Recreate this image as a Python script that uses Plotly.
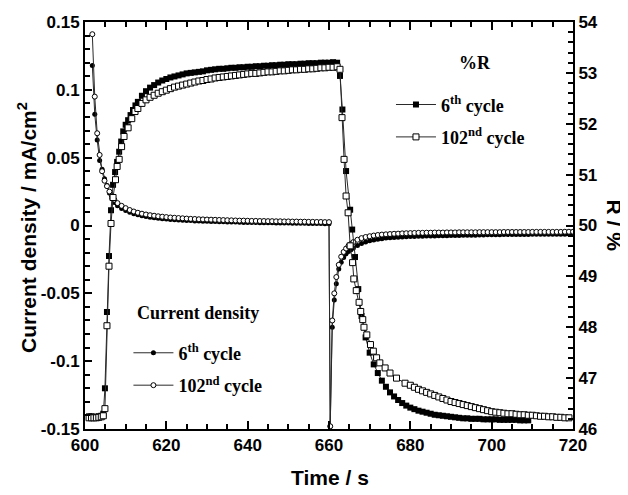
import plotly.graph_objects as go

# ---------------- data ----------------
j_time = [601.8, 602.4, 603.0, 603.6, 604.2, 604.8, 605.4, 606.0, 606.6, 607.2,
          608, 609, 610, 611, 612, 613, 614, 615, 616, 617, 618, 619, 620,
          621, 622, 623, 624, 625, 626, 627, 628, 629, 630, 631, 632, 633, 634, 635, 636, 637, 638, 639, 640,
          641, 642, 643, 644, 645, 646, 647, 648, 649, 650, 651, 652, 653, 654, 655, 656, 657, 658, 659,
          660.0,
          660.3, 660.8, 661.3, 661.8, 662.4, 663.0, 663.6, 664.2, 664.8, 665.4,
          666, 667, 668, 669, 670, 671, 672, 673, 674, 675, 676, 677, 678, 679, 680,
          681, 682, 683, 684, 685, 686, 687, 688, 689, 690,
          691, 692, 693, 694, 695, 696, 697, 698, 699, 700,
          701, 702, 703, 704, 705, 706, 707, 708, 709, 710,
          711, 712, 713, 714, 715, 716, 717, 718, 719, 720]

j_cycle6 = [0.118, 0.082, 0.063, 0.048, 0.0415, 0.0345, 0.0295, 0.024, 0.020, 0.017,
            0.0145, 0.0125, 0.0110, 0.0097, 0.0087, 0.0079, 0.0072, 0.0066, 0.0061, 0.0057, 0.0053, 0.0050, 0.0047,
            0.0045, 0.0043, 0.0041, 0.0039, 0.0037, 0.0036, 0.0034, 0.0033, 0.0032, 0.0031,
            0.0030, 0.0029, 0.0028, 0.0027, 0.0026, 0.0026, 0.0025, 0.0024, 0.0023, 0.0023,
            0.0022, 0.0022, 0.0021, 0.0021, 0.0020, 0.0020, 0.0019, 0.0019, 0.0018, 0.0018,
            0.0017, 0.0017, 0.0016, 0.0016, 0.0015, 0.0015, 0.0014, 0.0014, 0.0013,
            0.0013,
            -0.148, -0.075, -0.055, -0.043, -0.032, -0.027, -0.0235, -0.021, -0.0192, -0.0178,
            -0.0165, -0.0147, -0.0132, -0.0121, -0.0113, -0.0107, -0.0101, -0.0097, -0.0093, -0.0090,
            -0.0088, -0.0086, -0.0084, -0.0083, -0.0082,
            -0.0081, -0.0080, -0.0079, -0.0078, -0.0077, -0.0077, -0.0076, -0.0075, -0.0075, -0.0074,
            -0.0073, -0.0073, -0.0072, -0.0072, -0.0071, -0.0071, -0.0070, -0.0070, -0.0069, -0.0068,
            -0.0068, -0.0068, -0.0067, -0.0067, -0.0067, -0.0066, -0.0066, -0.0066, -0.0066, -0.0065,
            -0.0065, -0.0065, -0.0065, -0.0064, -0.0064, -0.0064, -0.0064, -0.0064, -0.0063, -0.0063]

j_cycle102 = [0.141, 0.095, 0.068, 0.052, 0.040, 0.033, 0.029, 0.025, 0.022, 0.019,
              0.0165, 0.0145, 0.0128, 0.0114, 0.0103, 0.0094, 0.0087, 0.0081, 0.0076, 0.0072, 0.0068, 0.0065, 0.0062,
              0.0059, 0.0057, 0.0055, 0.0053, 0.0051, 0.0049, 0.0048, 0.0046, 0.0045, 0.0044,
              0.0043, 0.0042, 0.0041, 0.0040, 0.0039, 0.0038, 0.0037, 0.0036, 0.0036, 0.0035,
              0.0034, 0.0034, 0.0033, 0.0033, 0.0032, 0.0032, 0.0031, 0.0031, 0.0030, 0.0030,
              0.0029, 0.0029, 0.0028, 0.0028, 0.0027, 0.0027, 0.0026, 0.0026, 0.0025,
              0.0025,
              -0.148, -0.070, -0.050, -0.038, -0.029, -0.023, -0.0195, -0.0170, -0.0150, -0.0135,
              -0.0122, -0.0105, -0.0093, -0.0085, -0.0079, -0.0074, -0.0070, -0.0067, -0.0065, -0.0063,
              -0.0061, -0.0060, -0.0058, -0.0057, -0.0056,
              -0.0055, -0.0054, -0.0054, -0.0053, -0.0053, -0.0052, -0.0052, -0.0052, -0.0051, -0.0051,
              -0.0051, -0.0050, -0.0050, -0.0050, -0.0050, -0.0050, -0.0049, -0.0049, -0.0049, -0.0049,
              -0.0049, -0.0049, -0.0048, -0.0048, -0.0048, -0.0048, -0.0048, -0.0048, -0.0048, -0.0047,
              -0.0047, -0.0047, -0.0047, -0.0047, -0.0047, -0.0047, -0.0047, -0.0046, -0.0046, -0.0046]

r6_time = [601.0, 601.6, 602.2, 602.8, 603.4, 604.0, 604.5, 604.9, 605.4, 605.9, 606.4,
           606.9, 607.4, 607.9, 608.4, 608.9, 609.4, 610.0, 610.6, 611.2, 611.8, 612.4,
           613, 614, 615, 616, 617, 618, 619, 620, 621, 622,
           623, 624, 625, 626, 627, 628, 629, 630, 631, 632,
           633, 634, 635, 636, 637, 638, 639, 640, 641, 642,
           643, 644, 645, 646, 647, 648, 649, 650, 651, 652,
           653, 654, 655, 656, 657, 658, 659, 660, 661, 662,
           662.7, 663.3, 664.2, 665.2, 665.7, 666.4, 667.2, 668.0, 669.0,
           670, 671, 672, 673, 674, 675, 676, 677, 678, 679,
           680, 681, 682, 683, 684, 685, 686, 687, 688, 689,
           690, 691, 692, 693, 694, 695, 696, 697, 698, 699,
           700, 701, 702, 703, 704, 705, 706, 707, 708, 709]

r_cycle6 = [46.25, 46.25, 46.24, 46.24, 46.25, 46.26, 46.30, 46.80, 48.30, 49.40, 50.30,
            50.80, 51.05, 51.25, 51.45, 51.65, 51.85, 51.98, 52.07, 52.17, 52.27, 52.36,
            52.43, 52.55, 52.64, 52.71, 52.76, 52.81, 52.85, 52.88, 52.91, 52.93,
            52.95, 52.97, 52.99, 53.00, 53.01, 53.02, 53.03, 53.05, 53.06, 53.07,
            53.08, 53.08, 53.09, 53.10, 53.10, 53.11, 53.11, 53.12, 53.12, 53.13,
            53.13, 53.14, 53.14, 53.15, 53.15, 53.16, 53.16, 53.17, 53.17, 53.17,
            53.18, 53.18, 53.19, 53.19, 53.19, 53.20, 53.20, 53.20, 53.21, 53.20,
            52.94, 52.28, 51.07, 50.31, 49.92, 49.38, 48.75, 48.22, 47.80,
            47.50, 47.27, 47.10, 46.95, 46.83, 46.72, 46.64, 46.57, 46.51, 46.46,
            46.42, 46.39, 46.36, 46.34, 46.32, 46.30, 46.28, 46.27, 46.26, 46.25,
            46.24, 46.23, 46.22, 46.21, 46.21, 46.20, 46.20, 46.20, 46.19, 46.19,
            46.19, 46.19, 46.18, 46.18, 46.18, 46.18, 46.18, 46.17, 46.17, 46.17]

r102_time = [601.0, 601.6, 602.2, 602.8, 603.4, 604.0, 604.5, 604.9, 605.4, 605.9,
             606.4, 606.9, 607.5, 607.9, 608.4, 609.0, 609.6, 610.6, 611.5, 612.3,
             613, 614, 615, 616, 617, 618, 619, 620, 621, 622,
             623, 624, 625, 626, 627, 628, 629, 630, 631, 632,
             633, 634, 635, 636, 637, 638, 639, 640, 641, 642,
             643, 644, 645, 646, 647, 648, 649, 650, 651, 652,
             653, 654, 655, 656, 657, 658, 659, 660, 661, 662,
             662.7, 663.2, 663.7, 664.2, 664.7, 665.2, 665.8, 666.1, 666.7, 667.4, 667.8,
             668.3, 668.6, 669.3, 670.2, 670.9, 671.7, 672.5, 673.8, 675.0, 676.6, 678.7,
             680, 681, 682, 683, 684, 685, 686, 687, 688, 689,
             690, 691, 692, 693, 694, 695, 696, 697, 698, 699,
             700, 701, 702, 703, 704, 705, 706, 707, 708, 709,
             710, 711, 712, 713, 714, 715, 716, 717, 718, 719]

r_cycle102 = [46.22, 46.22, 46.22, 46.22, 46.23, 46.24, 46.26, 46.40, 48.03, 49.20,
              50.04, 50.55, 50.90, 51.16, 51.30, 51.55, 51.75, 51.92, 52.10, 52.24,
              52.30, 52.40, 52.47, 52.52, 52.56, 52.60, 52.63, 52.66, 52.69, 52.72,
              52.74, 52.76, 52.78, 52.80, 52.82, 52.84, 52.85, 52.87, 52.88, 52.90,
              52.91, 52.92, 52.93, 52.94, 52.95, 52.96, 52.97, 52.98, 52.99, 52.99,
              53.00, 53.01, 53.02, 53.02, 53.03, 53.04, 53.04, 53.05, 53.06, 53.06,
              53.07, 53.07, 53.08, 53.08, 53.09, 53.10, 53.10, 53.11, 53.11, 53.12,
              53.07, 52.12, 51.30, 50.58, 50.25, 49.60, 49.27, 48.95, 48.72, 48.49, 48.31,
              48.15, 48.00, 47.85, 47.66, 47.53, 47.40, 47.30, 47.20, 47.10, 47.00, 46.90,
              46.86, 46.82, 46.78, 46.75, 46.72, 46.69, 46.66, 46.63, 46.60, 46.57,
              46.54, 46.52, 46.50, 46.48, 46.46, 46.44, 46.42, 46.40, 46.38, 46.36,
              46.34, 46.33, 46.32, 46.31, 46.30, 46.30, 46.29, 46.28, 46.28, 46.27,
              46.27, 46.26, 46.25, 46.25, 46.24, 46.24, 46.23, 46.23, 46.22, 46.22]

x_tickvals = [600, 620, 640, 660, 680, 700, 720]
x_ticktext = ["600", "620", "640", "660", "680", "700", "720"]
j_tickvals = [-0.15, -0.1, -0.05, 0, 0.05, 0.1, 0.15]
j_ticktext = ["-0.15", "-0.1", "-0.05", "0", "0.05", "0.1", "0.15"]
r_tickvals = [46, 47, 48, 49, 50, 51, 52, 53, 54]
r_ticktext = ["46", "47", "48", "49", "50", "51", "52", "53", "54"]

label_6 = "6<sup>th</sup> cycle"
label_102 = "102<sup>nd</sup> cycle"

# ---------------- figure ----------------
SANS = "Liberation Sans, Arial, sans-serif"
SERIF = "Liberation Serif, Times New Roman, serif"
LINE = dict(color="#2a2a2a", width=1)

fig = go.Figure()

fig.add_trace(go.Scatter(
    x=j_time, y=j_cycle6, mode="lines+markers", name=label_6,
    line=LINE, marker=dict(symbol="circle", size=5, color="black"),
    legend="legend", legendgroup="j6"))
fig.add_trace(go.Scatter(
    x=j_time, y=j_cycle102, mode="lines+markers", name=label_102,
    line=LINE, marker=dict(symbol="circle", size=5, color="white",
                           line=dict(color="black", width=1)),
    legend="legend", legendgroup="j102"))
fig.add_trace(go.Scatter(
    x=r6_time, y=r_cycle6, mode="lines+markers", name=label_6, yaxis="y2",
    line=LINE, marker=dict(symbol="square", size=6, color="black"),
    legend="legend2", legendgroup="r6"))
fig.add_trace(go.Scatter(
    x=r102_time, y=r_cycle102, mode="lines+markers", name=label_102, yaxis="y2",
    line=LINE, marker=dict(symbol="square", size=6, color="white",
                           line=dict(color="black", width=1)),
    legend="legend2", legendgroup="r102"))

tickfont = dict(family=SANS, size=17, color="black", weight="bold")
legfont = dict(family=SERIF, size=18, color="black", weight="bold")

fig.update_layout(
    width=620, height=487,
    margin=dict(l=77, r=55, t=14, b=66, autoexpand=False),
    paper_bgcolor="white", plot_bgcolor="white",
    xaxis=dict(
        range=[600, 720], tickmode="array", tickvals=x_tickvals, ticktext=x_ticktext,
        ticks="inside", ticklen=8, tickwidth=2, tickcolor="black",
        minor=dict(tickmode="linear", tick0=600, dtick=5, ticks="inside",
                   ticklen=5, tickwidth=1.5, tickcolor="black", showgrid=False),
        showline=True, linewidth=2, linecolor="black", mirror="ticks",
        showgrid=False, zeroline=False, tickfont=tickfont, automargin=False),
    yaxis=dict(
        range=[-0.15, 0.15], tickmode="array", tickvals=j_tickvals, ticktext=j_ticktext,
        ticks="inside", ticklen=7, tickwidth=2, tickcolor="black",
        minor=dict(tickmode="linear", tick0=-0.15, dtick=0.01, ticks="inside",
                   ticklen=5, tickwidth=1.5, tickcolor="black", showgrid=False),
        showline=True, linewidth=2, linecolor="black", mirror=False,
        showgrid=False, zeroline=False, tickfont=tickfont, automargin=False),
    yaxis2=dict(
        range=[46, 54], overlaying="y", side="right",
        tickmode="array", tickvals=r_tickvals, ticktext=r_ticktext,
        ticks="inside", ticklen=7, tickwidth=2, tickcolor="black",
        minor=dict(tickmode="linear", tick0=46, dtick=0.2, ticks="inside",
                   ticklen=5, tickwidth=1.5, tickcolor="black", showgrid=False),
        showline=True, linewidth=2, linecolor="black",
        showgrid=False, zeroline=False, tickfont=tickfont, automargin=False),
    legend=dict(
        x=0.089, y=0.232, xanchor="left", yanchor="top",
        bgcolor="rgba(0,0,0,0)", borderwidth=0, font=legfont,
        traceorder="grouped", tracegroupgap=6, itemwidth=40),
    legend2=dict(
        x=0.627, y=0.842, xanchor="left", yanchor="top",
        bgcolor="rgba(0,0,0,0)", borderwidth=0, font=legfont,
        traceorder="grouped", tracegroupgap=6, itemwidth=40),
    annotations=[
        dict(text="<b>Time / s</b>", xref="paper", yref="paper", x=0.502, y=-0.12,
             xanchor="center", yanchor="middle", showarrow=False,
             font=dict(family=SANS, size=21, color="black")),
        dict(text="<b>R / %</b>", xref="paper", yref="paper", x=1.086, y=0.5,
             xanchor="center", yanchor="middle", textangle=90, showarrow=False,
             font=dict(family=SANS, size=21, color="black")),
        dict(text="<b>Current density / mA/cm<sup>2</sup></b>", xref="paper", yref="paper",
             x=-0.12, y=0.495, xanchor="center", yanchor="middle", textangle=-90,
             showarrow=False, font=dict(family=SANS, size=21, color="black")),
        dict(text="<b>Current density</b>", xref="paper", yref="paper", x=0.102, y=0.285,
             xanchor="left", yanchor="middle", showarrow=False,
             font=dict(family=SERIF, size=18, color="black")),
        dict(text="<b>%R</b>", xref="paper", yref="paper", x=0.799, y=0.899,
             xanchor="center", yanchor="middle", showarrow=False,
             font=dict(family=SERIF, size=18, color="black")),
    ],
)

fig.write_html("out.html")
